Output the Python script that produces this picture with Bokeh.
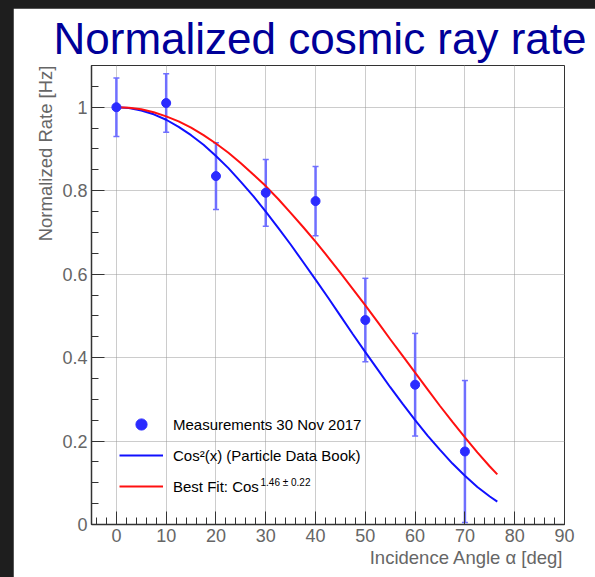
from bokeh.plotting import figure
from bokeh.models import (Range1d, Label, Legend, LegendItem, Whisker, ColumnDataSource,
                          NumeralTickFormatter, SingleIntervalTicker, TeeHead, Title)
from bokeh.embed import file_html
from bokeh.resources import INLINE

# ---- data ----
angles = [0, 10, 20, 30, 40, 50, 60, 70]
rates = [1.0, 1.01, 0.835, 0.795, 0.775, 0.49, 0.335, 0.175]
errors = [0.07, 0.07, 0.08, 0.08, 0.083, 0.10, 0.123, 0.17]

curve_angles = [i * 2.5 for i in range(31)] + [76.5]
cos2_values = [1.0, 0.998, 0.992, 0.983, 0.970, 0.953, 0.933, 0.910, 0.883, 0.854,
               0.821, 0.787, 0.750, 0.711, 0.671, 0.629, 0.587, 0.544, 0.500, 0.456,
               0.413, 0.371, 0.329, 0.289, 0.250, 0.213, 0.179, 0.146, 0.117, 0.090,
               0.067, 0.055]
fit_values = [1.0, 0.999, 0.995, 0.988, 0.978, 0.966, 0.951, 0.933, 0.913, 0.891,
              0.866, 0.839, 0.811, 0.780, 0.747, 0.713, 0.678, 0.641, 0.603, 0.564,
              0.525, 0.485, 0.444, 0.404, 0.364, 0.324, 0.284, 0.246, 0.209, 0.173,
              0.139, 0.120]

legend_labels = ["Measurements 30 Nov 2017", "Cos\u00b2(x) (Particle Data Book)", "Best Fit: Cos"]
fit_exponent = "1.46 \u00b1 0.22"
title_text = "Normalized cosmic ray rate"
x_title = "Incidence Angle \u03b1 [deg]"
y_title = "Normalized Rate [Hz]"

FONT = "Liberation Sans"
GRAY = "#666666"

p = figure(width=582, height=569, output_backend="svg", toolbar_location=None,
           x_range=Range1d(-5, 90), y_range=Range1d(0, 1.1),
           min_border_left=78, min_border_right=31, min_border_top=57, min_border_bottom=53)
p.title.text = title_text
p.title.text_font = FONT
p.title.text_font_size = "44px"
p.title.text_font_style = "normal"
p.title.text_color = "#000099"
p.title.align = "left"
p.title.offset = -38
p.title.standoff = 6

p.background_fill_color = "white"
p.border_fill_color = "white"
p.outline_line_color = "#333333"
p.outline_line_width = 1

p.xaxis.ticker = SingleIntervalTicker(interval=10, num_minor_ticks=5)
p.yaxis.ticker = SingleIntervalTicker(interval=0.2, num_minor_ticks=4)
p.yaxis.formatter = NumeralTickFormatter(format="0.[0]")
for ax in (p.xaxis[0], p.yaxis[0]):
    ax.axis_line_color = "#333333"
    ax.axis_line_width = 1.5
    ax.major_tick_line_color = "#333333"
    ax.minor_tick_line_color = "#333333"
    ax.major_tick_in = 13
    ax.major_tick_out = 0
    ax.minor_tick_in = 7
    ax.minor_tick_out = 0
    ax.major_label_text_font = FONT
    ax.major_label_text_font_size = "18px"
    ax.major_label_text_color = GRAY
p.xaxis.major_label_standoff = 4
p.yaxis.major_label_standoff = 4

for g in (p.xgrid[0], p.ygrid[0]):
    g.grid_line_color = "#999999"
    g.grid_line_dash = "1 1"
    g.grid_line_width = 1

src = ColumnDataSource(dict(x=angles, y=rates,
                            upper=[r + e for r, e in zip(rates, errors)],
                            lower=[max(r - e, 0) for r, e in zip(rates, errors)]))
curves = ColumnDataSource(dict(x=curve_angles, c2=cos2_values, fit=fit_values))

blue = p.line("x", "c2", source=curves, line_color="#1010ff", line_width=2)
red = p.line("x", "fit", source=curves, line_color="#ff1010", line_width=2)

whisk = Whisker(base="x", upper="upper", lower="lower", source=src,
                line_color="#6f6fff", line_width=2.5,
                upper_head=TeeHead(size=6, line_color="#6f6fff", line_width=1.5),
                lower_head=TeeHead(size=6, line_color="#6f6fff", line_width=1.5))
p.add_layout(whisk)
dots = p.scatter("x", "y", source=src, size=9, marker="circle",
                 fill_color="#2b2bff", line_color="#2b2bff")

legend = Legend(items=[LegendItem(label=legend_labels[0], renderers=[dots]),
                       LegendItem(label=legend_labels[1], renderers=[blue]),
                       LegendItem(label=legend_labels[2], renderers=[red])],
                location=(28, 24), background_fill_alpha=0, border_line_alpha=0,
                padding=0, margin=0, spacing=3, glyph_width=44, glyph_height=28,
                label_height=28, label_standoff=10, label_text_font=FONT,
                label_text_font_size="15px", label_text_color="black")
p.add_layout(legend)

p.add_layout(Label(x=169, y=42, x_units="screen", y_units="screen", text=fit_exponent,
                   text_font=FONT, text_font_size="10px", text_color="black",
                   text_baseline="alphabetic"))

p.add_layout(Title(text=x_title, align="right", text_font=FONT, text_font_size="18.5px",
                   text_font_style="normal", text_color=GRAY, standoff=0, offset=1), "below")
p.add_layout(Title(text=y_title, align="right", text_font=FONT, text_font_size="18.5px",
                   text_font_style="normal", text_color=GRAY, standoff=7), "left")

html = file_html(p, INLINE)
html = html.replace("</head>",
                    "<style>html,body{background:#1e1e1e;} body{margin:8px 0 0 13px;}</style></head>", 1)
open("out.html", "w").write(html)
